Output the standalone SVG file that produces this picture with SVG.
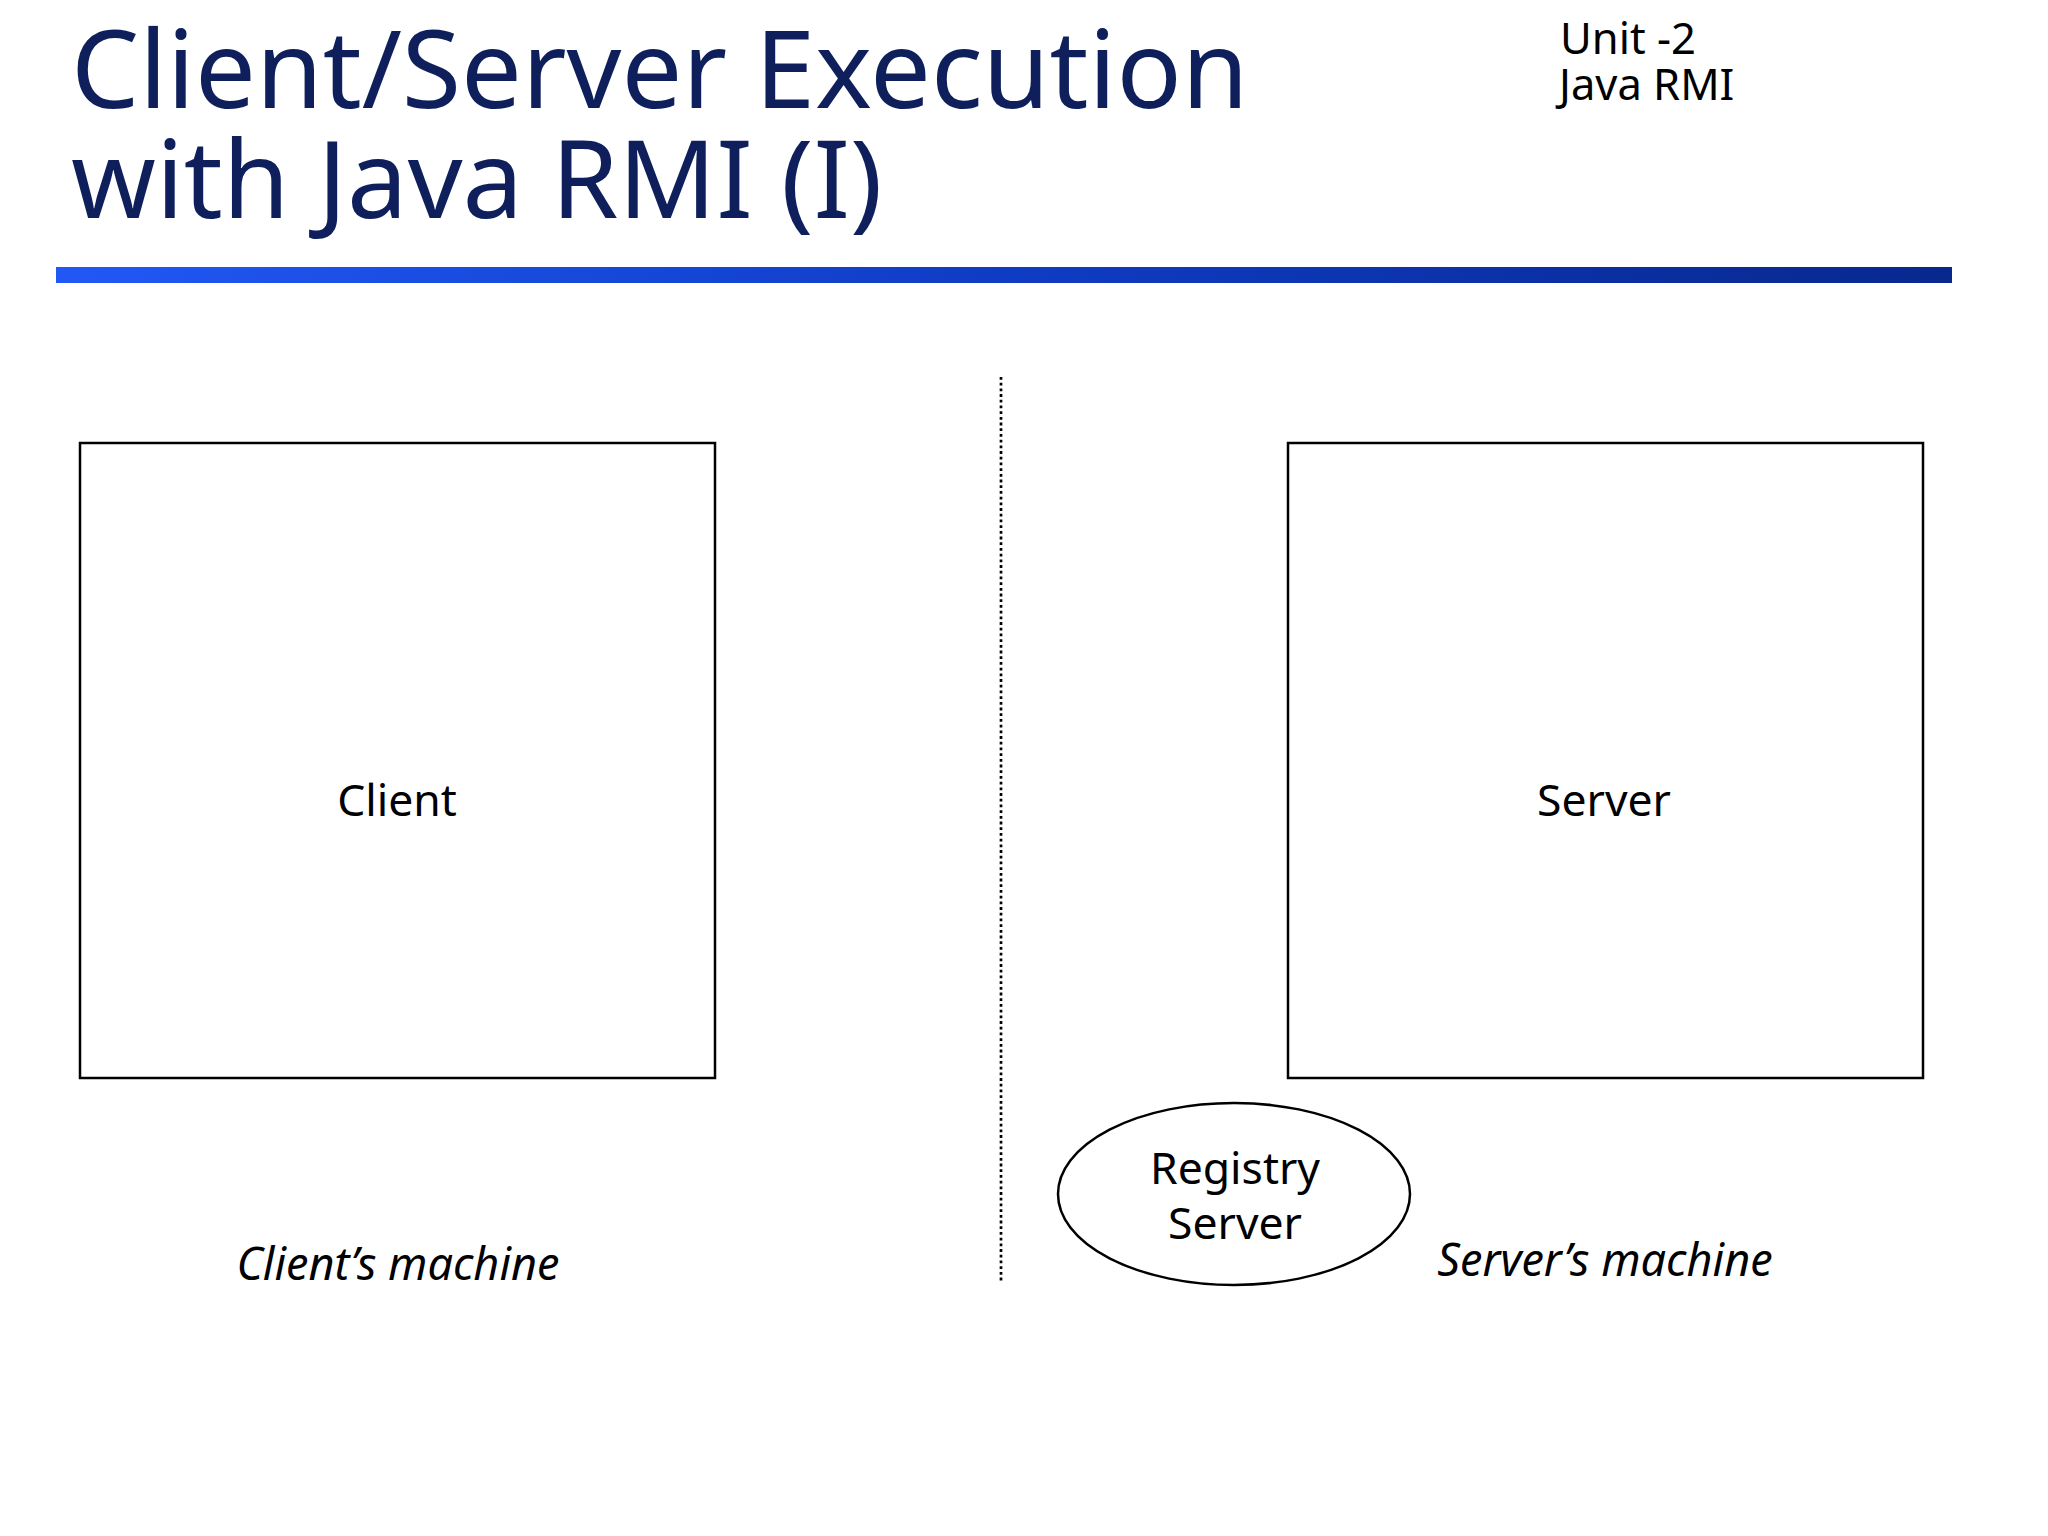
<svg xmlns="http://www.w3.org/2000/svg" width="2048" height="1536" viewBox="0 0 2048 1536">
<defs>
<linearGradient id="bar" x1="0" y1="0" x2="1" y2="0">
<stop offset="0" stop-color="#2158f5"/>
<stop offset="0.5" stop-color="#0f3cc4"/>
<stop offset="1" stop-color="#08288e"/>
</linearGradient>
<style>
.title{font-family:"Noto Sans","Open Sans","Liberation Sans",sans-serif;font-size:108px;fill:#0e1f5c}
.sub{font-family:"Noto Sans","Open Sans","Liberation Sans",sans-serif;font-size:43.5px;fill:#000}
.lbl{font-family:"Noto Sans","Open Sans","Liberation Sans",sans-serif;font-size:44.5px;fill:#000;text-anchor:middle}
.it{font-family:"Noto Sans","Open Sans","Liberation Sans",sans-serif;font-size:45px;font-style:italic;fill:#000;text-anchor:middle}
.box{fill:#fff;stroke:#000;stroke-width:2.5}
</style>
</defs>
<rect width="2048" height="1536" fill="#fff"/>
<g id="header">
<text class="title" x="71" y="108">Client/Server Execution</text>
<text class="title" x="71" y="218">with Java RMI (I)</text>
<text class="sub" x="1560" y="54">Unit -2</text>
<text class="sub" x="1559" y="100">Java RMI</text>
<rect x="56" y="267" width="1896" height="16" fill="url(#bar)"/>
</g>
<g id="connectors">
<line x1="1001" y1="377" x2="1001" y2="1282" stroke="#000" stroke-width="2.7" stroke-dasharray="2.8 2.9"/>
</g>
<g id="client">
<rect class="box" x="80" y="443" width="635" height="635"/>
<text class="lbl" x="397" y="816">Client</text>
</g>
<g id="server">
<rect class="box" x="1288" y="443" width="635" height="635"/>
<text class="lbl" x="1604" y="816">Server</text>
</g>
<g id="registry">
<ellipse class="box" cx="1234" cy="1194" rx="176" ry="91"/>
<text class="lbl" x="1235" y="1184">Registry</text>
<text class="lbl" x="1235" y="1239">Server</text>
</g>
<g id="machines">
<text class="it" x="398" y="1280">Client’s machine</text>
<text class="it" x="1605" y="1276">Server’s machine</text>
</g>
</svg>
